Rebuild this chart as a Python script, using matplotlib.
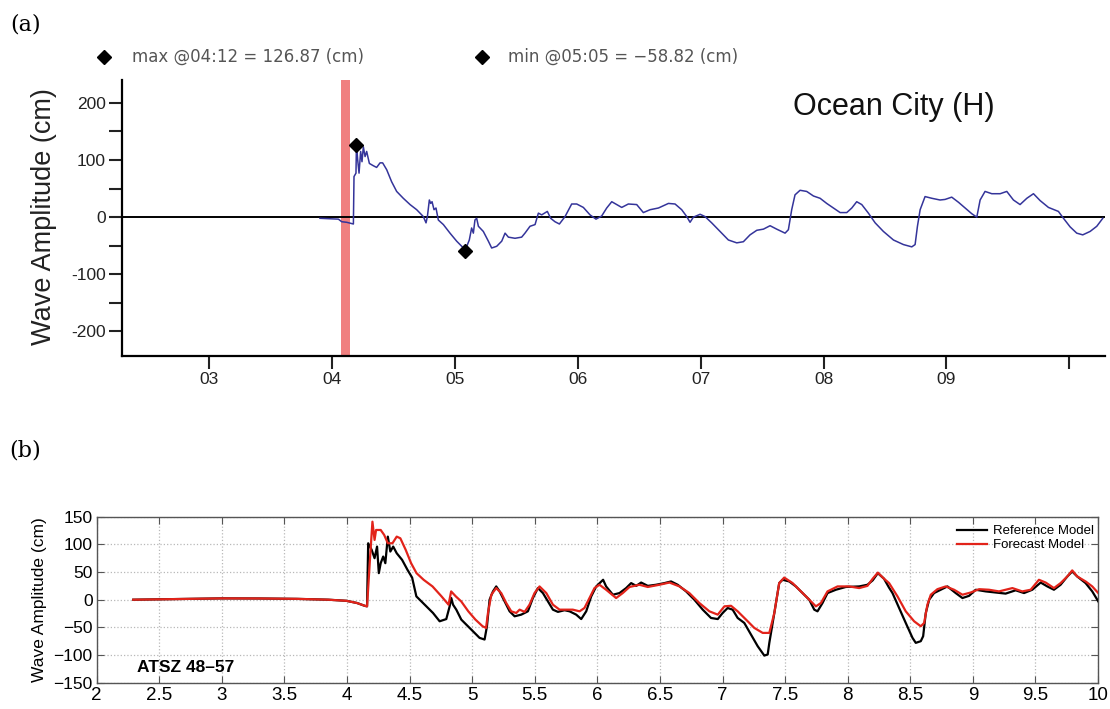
import matplotlib
matplotlib.use("Agg")
import matplotlib.pyplot as plt
import numpy as np

plt.rcParams['font.family'] = ['Liberation Sans', 'DejaVu Sans']

# ---------------- (a) Ocean City tide gauge record ----------------
obs_time = [3.903, 4.053, 4.080, 4.120, 4.175, 4.180, 4.196, 4.200, 4.210, 4.221,
            4.234, 4.245, 4.256, 4.270, 4.283, 4.305, 4.337, 4.364, 4.392, 4.413,
            4.446, 4.486, 4.527, 4.581, 4.636, 4.690, 4.744, 4.766, 4.777, 4.793,
            4.804, 4.815, 4.831, 4.847, 4.866, 4.907, 4.961, 5.015, 5.070, 5.083,
            5.118, 5.137, 5.151, 5.164, 5.178, 5.192, 5.232, 5.273, 5.300, 5.341,
            5.382, 5.409, 5.436, 5.490, 5.544, 5.571, 5.612, 5.653, 5.680, 5.707,
            5.753, 5.780, 5.815, 5.851, 5.897, 5.951, 5.992, 6.046, 6.100, 6.149,
            6.195, 6.236, 6.277, 6.317, 6.358, 6.412, 6.480, 6.534, 6.589, 6.657,
            6.738, 6.792, 6.846, 6.887, 6.914, 6.941, 6.996, 7.036, 7.090, 7.158,
            7.226, 7.294, 7.348, 7.402, 7.457, 7.511, 7.565, 7.619, 7.687, 7.714,
            7.741, 7.768, 7.809, 7.863, 7.918, 7.972, 8.026, 8.080, 8.135, 8.189,
            8.230, 8.270, 8.311, 8.365, 8.420, 8.487, 8.569, 8.650, 8.718, 8.745,
            8.764, 8.786, 8.826, 8.881, 8.948, 8.989, 9.043, 9.098, 9.152, 9.206,
            9.247, 9.274, 9.314, 9.369, 9.437, 9.491, 9.545, 9.599, 9.654, 9.708,
            9.762, 9.830, 9.911, 9.952, 10.006, 10.060, 10.109, 10.169, 10.223, 10.272]
obs_amp = [-2, -3.5, -8, -9, -12, 71, 77, 126.87, 100, 77,
           115, 97, 123, 106, 115, 94, 90, 87, 95, 95,
           83, 62, 45, 33, 22, 13, 1, -10, 1, 30,
           24, 27, 13, 16, -5, -13, -28, -42, -54, -58.82,
           -40, -19, -28, -5, -2, -16, -25, -42, -54, -51,
           -42, -28, -35, -37, -35, -28, -16, -13, 7, 4,
           10, -2, -8, -12, 1, 23, 23, 17, 4, -3.5,
           2, 16, 27, 22, 17, 23, 22, 8, 13, 16,
           24, 23, 13, 1, -9, 0, 5, 1, -10, -25,
           -40, -45, -43, -31, -23, -21, -15, -21, -28, -22,
           13, 39, 47, 45, 37, 33, 24, 16, 8, 8,
           16, 27, 22, 7, -10, -25, -40, -48, -52, -48,
           -16, 13, 36, 33, 30, 31, 35, 26, 16, 6,
           0, 30, 45, 41, 41, 45, 30, 22, 33, 41,
           29, 17, 10, -2, -17, -28, -31, -25, -16, -2]

max_time, max_val = 4.2, 126.87          # 04:12
min_time, min_val = 5.0 + 5 / 60, -58.82  # 05:05
arrival_start, arrival_end = 4.072, 4.148

hour_ticks = [3, 4, 5, 6, 7, 8, 9, 10]
hour_labels = ['03', '04', '05', '06', '07', '08', '09', '']
amp_ticks_a = [-200, -150, -100, -50, 0, 50, 100, 150, 200]
amp_labels_a = ['-200', '', '-100', '', '0', '', '100', '', '200']

# ---------------- (b) reference vs forecast model ----------------
ref_time = [2.292, 2.6, 3.0, 3.3, 3.6, 3.85, 3.995, 4.08, 4.141, 4.160,
            4.169, 4.197, 4.220, 4.240, 4.254, 4.269, 4.289, 4.306, 4.326, 4.346,
            4.369, 4.397, 4.440, 4.483, 4.520, 4.554, 4.634, 4.687, 4.740, 4.793,
            4.820, 4.833, 4.847, 4.873, 4.913, 4.953, 5.006, 5.059, 5.099, 5.118,
            5.139, 5.166, 5.192, 5.219, 5.259, 5.299, 5.339, 5.392, 5.445, 5.485,
            5.525, 5.565, 5.605, 5.645, 5.685, 5.738, 5.778, 5.831, 5.871, 5.911,
            5.951, 5.991, 6.046, 6.070, 6.124, 6.177, 6.230, 6.270, 6.310, 6.350,
            6.403, 6.469, 6.536, 6.589, 6.642, 6.709, 6.775, 6.842, 6.908, 6.962,
            7.001, 7.041, 7.081, 7.121, 7.174, 7.228, 7.281, 7.334, 7.361, 7.374,
            7.414, 7.453, 7.480, 7.533, 7.586, 7.640, 7.693, 7.733, 7.759, 7.799,
            7.839, 7.906, 7.985, 8.092, 8.158, 8.200, 8.241, 8.290, 8.330, 8.358,
            8.411, 8.464, 8.518, 8.544, 8.584, 8.603, 8.624, 8.651, 8.690, 8.744,
            8.797, 8.863, 8.917, 8.970, 9.023, 9.103, 9.183, 9.262, 9.342, 9.409,
            9.475, 9.542, 9.595, 9.648, 9.701, 9.755, 9.794, 9.834, 9.901, 9.954,
            10.002]
ref_amp = [0, 1, 2.4, 2.2, 1.5, 0, -2, -6, -11, -12,
           102, 90, 75, 96, 48, 66, 78, 66, 114, 87,
           96, 84, 72, 54, 40, 6, -12, -24, -39, -35,
           -12, 3, -9, -18, -36, -45, -57, -69, -72, -48,
           0, 15, 24, 15, -3, -21, -30, -27, -21, 3,
           21, 12, -3, -18, -22, -19, -21, -27, -35, -21,
           6, 24, 36, 24, 9, 12, 21, 30, 25, 31,
           25, 27, 30, 33, 27, 15, 0, -18, -33, -35,
           -24, -15, -18, -33, -42, -63, -84, -101, -99, -78,
           -24, 30, 36, 33, 24, 12, 0, -18, -21, -6,
           12, 18, 23, 24, 27, 35, 48, 38, 22, 12,
           -15, -42, -69, -78, -75, -66, -24, 0, 12, 18,
           24, 12, 3, 7, 18, 15, 13, 11, 17, 12,
           18, 31, 24, 18, 27, 42, 51, 42, 30, 15,
           -3]

fc_time = [2.292, 2.6, 3.0, 3.3, 3.6, 3.85, 3.995, 4.08, 4.141, 4.160,
           4.183, 4.203, 4.220, 4.232, 4.269, 4.297, 4.326, 4.363, 4.397, 4.426,
           4.469, 4.512, 4.555, 4.612, 4.683, 4.755, 4.811, 4.832, 4.869, 4.912,
           4.969, 5.026, 5.083, 5.111, 5.126, 5.153, 5.192, 5.232, 5.272, 5.312,
           5.352, 5.379, 5.419, 5.458, 5.498, 5.538, 5.592, 5.645, 5.698, 5.751,
           5.804, 5.858, 5.897, 5.937, 5.977, 6.017, 6.070, 6.150, 6.203, 6.257,
           6.336, 6.403, 6.496, 6.576, 6.656, 6.735, 6.815, 6.895, 6.962, 7.015,
           7.068, 7.121, 7.188, 7.254, 7.321, 7.374, 7.414, 7.453, 7.493, 7.560,
           7.613, 7.680, 7.746, 7.786, 7.839, 7.919, 8.012, 8.092, 8.158, 8.200,
           8.241, 8.290, 8.331, 8.398, 8.464, 8.531, 8.584, 8.611, 8.637, 8.664,
           8.717, 8.783, 8.850, 8.917, 8.983, 9.050, 9.129, 9.209, 9.316, 9.395,
           9.462, 9.528, 9.582, 9.648, 9.701, 9.755, 9.794, 9.834, 9.901, 9.954,
           10.002]
fc_amp = [0, 1, 2.4, 2.2, 1.5, 0, -2, -6, -11, -12,
          72, 141, 108, 126, 126, 117, 102, 102, 114, 111,
          90, 66, 48, 36, 24, 6, -9, 15, 6, -3,
          -21, -36, -48, -51, -24, 9, 21, 12, -6, -21,
          -24, -18, -22, -9, 12, 24, 12, -9, -18, -18,
          -18, -21, -15, 3, 21, 27, 18, 3, 12, 23,
          27, 23, 27, 31, 24, 12, -6, -21, -27, -12,
          -11, -21, -36, -51, -60, -60, -24, 30, 40, 30,
          18, 3, -12, -6, 15, 24, 24, 21, 25, 38,
          49, 38, 30, 6, -21, -39, -48, -42, -9, 9,
          19, 24, 18, 9, 13, 19, 18, 15, 21, 15,
          18, 36, 31, 21, 30, 42, 53, 42, 33, 24,
          12]

half_hour_ticks = [2, 2.5, 3, 3.5, 4, 4.5, 5, 5.5, 6, 6.5, 7, 7.5, 8, 8.5, 9, 9.5, 10]
half_hour_labels = ['2', '2.5', '3', '3.5', '4', '4.5', '5', '5.5', '6', '6.5',
                    '7', '7.5', '8', '8.5', '9', '9.5', '10']
amp_ticks_b = [-150, -100, -50, 0, 50, 100, 150]
amp_labels_b = ['\u2212150', '\u2212100', '\u221250', '0', '50', '100', '150']

# ---------------- figure ----------------
W, H = 1110, 709
fig = plt.figure(figsize=(W / 100, H / 100), dpi=100)


def rect(l, t, r, b):
    return [l / W, 1 - b / H, (r - l) / W, (b - t) / H]


# panel (a)
ax1 = fig.add_axes(rect(121.7, 80, 1105, 356))
ax1.axvspan(arrival_start, arrival_end, color='#f08080', lw=0, zorder=1)
ax1.axhline(0, color='black', lw=1.4, zorder=2)
ax1.plot(obs_time, obs_amp, color='#34349a', lw=1.1, zorder=3)
ax1.plot([max_time], [max_val], 'D', color='black', ms=7, zorder=4)
ax1.plot([min_time], [min_val], 'D', color='black', ms=7, zorder=4)
ax1.set_xlim(2.29, 10.29)
ax1.set_ylim(-243, 240)
for s in ('top', 'right'):
    ax1.spines[s].set_visible(False)
for s in ('left', 'bottom'):
    ax1.spines[s].set_linewidth(1.6)
ax1.set_xticks(hour_ticks)
ax1.set_xticklabels(hour_labels)
ax1.set_yticks(amp_ticks_a)
ax1.set_yticklabels(amp_labels_a)
ax1.tick_params(direction='out', length=9.5, width=1.5, labelsize=12.5,
                colors='#222222', pad=2)

fig.text(44 / W, 1 - 217 / H, 'Wave Amplitude (cm)', rotation=90,
         ha='center', va='center', fontsize=19.5, color='#222222')
fig.text(893.5 / W, 1 - 107 / H, 'Ocean City (H)', ha='center', va='center',
         fontsize=22, color='#111111')


def hhmm(t):
    h = int(t)
    m = int(round((t - h) * 60))
    return f'{h:02d}:{m:02d}'


legend_font = ['DejaVu Sans']
for xd, xt, name, t, v in ((104, 132, 'max', max_time, max_val),
                           (482, 508, 'min', min_time, min_val)):
    fig.lines.append(plt.Line2D([xd / W], [1 - 57 / H], marker='D', ms=7.5,
                                color='black', transform=fig.transFigure))
    val = f'{v:.2f}'.replace('-', '\u2212')
    fig.text(xt / W, 1 - 57 / H, f'{name} @{hhmm(t)} = {val} (cm)',
             ha='left', va='center', fontsize=12, color='#555555',
             family=legend_font)

fig.text(10 / W, 1 - 24 / H, '(a)', ha='left', va='center', fontsize=16,
         family=['DejaVu Serif'])
fig.text(9 / W, 1 - 450 / H, '(b)', ha='left', va='center', fontsize=16,
         family=['DejaVu Serif'])

# panel (b)
ax2 = fig.add_axes(rect(96.7, 516.7, 1098, 682.7))
ax2.plot(ref_time, ref_amp, color='black', lw=1.6, label='Reference Model', zorder=3)
ax2.plot(fc_time, fc_amp, color='#e2231a', lw=1.6, label='Forecast Model', zorder=4)
ax2.set_xlim(2, 10)
ax2.set_ylim(-150, 150)
ax2.set_xticks(half_hour_ticks)
ax2.set_xticklabels(half_hour_labels)
ax2.set_yticks(amp_ticks_b)
ax2.set_yticklabels(amp_labels_b)
ax2.grid(True, ls=':', color='#b8b8b8', lw=0.9)
ax2.set_axisbelow(True)
ax2.tick_params(direction='in', top=True, right=True, length=5, width=0.8,
                color='#555555', pad=3)
ax2.tick_params(axis='x', labelsize=13.5)
ax2.tick_params(axis='y', labelsize=12.5)
for s in ax2.spines.values():
    s.set_color('#555555')
    s.set_linewidth(1.0)

fig.text(40 / W, 1 - 600 / H, 'Wave Amplitude (cm)', rotation=90,
         ha='center', va='center', fontsize=12.5)
fig.text(137 / W, 1 - 668 / H, 'ATSZ 48\u201357', ha='left', va='center',
         fontsize=12.5, fontweight='bold')

ax2.legend(loc='upper left', bbox_to_anchor=(957 / W, 1 - 525 / H),
           bbox_transform=fig.transFigure, frameon=False, fontsize=9.5,
           handlelength=2.3, handletextpad=0.4, labelspacing=0.15,
           borderpad=0, borderaxespad=0)

fig.savefig('out.png', dpi=100)
